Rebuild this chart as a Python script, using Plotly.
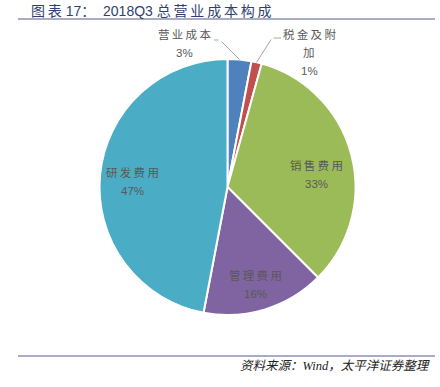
import math
import plotly.graph_objects as go

categories = ["营业成本", "税金及附加", "销售费用", "管理费用", "研发费用"]
values = [3.0, 1.3, 33.2, 15.5, 47.0]
colors = ["#4F81BD", "#C0504D", "#9BBB59", "#8064A2", "#4BACC6"]

W, H = 440, 387
cx, cy, R = 227.5, 187.0, 128.0
SP = "\u2009"
FONT = "Liberation Sans, Noto Sans CJK SC"

fig = go.Figure()
fig.add_trace(go.Pie(
    labels=categories, values=values, sort=False, direction="clockwise",
    rotation=0, marker=dict(colors=colors, line=dict(color="white", width=2)),
    textinfo="none", hoverinfo="label+percent", showlegend=False,
    domain=dict(x=[(cx - R) / W, (cx + R) / W], y=[1 - (cy + R) / H, 1 - (cy - R) / H]),
))

total = sum(values)
cum = 0
mids = []
for v in values:
    mids.append((cum + v / 2) / total * 2 * math.pi)
    cum += v

def px(xp, yp):
    return xp / W, 1 - yp / H

def spaced(s):
    return SP.join(list(s))

lab_font = dict(family=FONT, size=11.5, color="#595959")
LINE = 18.5
anns = []

def add_lines(lines, x, ymid):
    n = len(lines)
    for k, t in enumerate(lines):
        y = ymid + (k - (n - 1) / 2) * LINE
        xp, yp = px(x, y)
        anns.append(dict(x=xp, y=yp, xref="paper", yref="paper", showarrow=False,
                         text=t, font=lab_font, xanchor="center", yanchor="middle"))

# inside labels: (radius fraction, angle tweak in degrees)
inside = {2: (0.705, 7.0), 3: (0.79, 1.3), 4: (0.74, -2.0)}
for i, (rf, da) in inside.items():
    a = mids[i] + math.radians(da)
    r = rf * R
    x, y = cx + r * math.sin(a), cy - r * math.cos(a)
    pct = round(values[i] / total * 100)
    add_lines([spaced(categories[i]), f"{pct}%"], x, y)

# outside labels with leader lines
outside = {0: dict(tail=(220, 40), horiz=(214, 40), text_x=184, text_y=44,
                   lines=[spaced("营业成本")]),
           1: dict(tail=(272, 38), horiz=(281, 38), text_x=309, text_y=53,
                   lines=[spaced("税金及附"), "加"])}
for i, o in outside.items():
    a = mids[i]
    tx, ty = cx + R * math.sin(a), cy - R * math.cos(a)
    xp, yp = px(tx, ty)
    anns.append(dict(x=xp, y=yp, xref="paper", yref="paper", text="",
                     showarrow=True, arrowhead=0, arrowwidth=1, arrowcolor="#A6A6A6",
                     axref="pixel", ayref="pixel",
                     ax=o["tail"][0] - tx, ay=o["tail"][1] - ty, standoff=0, startstandoff=0))
    hx, hy = px(*o["horiz"])
    anns.append(dict(x=hx, y=hy, xref="paper", yref="paper", text="",
                     showarrow=True, arrowhead=0, arrowwidth=1, arrowcolor="#A6A6A6",
                     ax=o["tail"][0] - o["horiz"][0], ay=0, standoff=0, startstandoff=0))
    pct = round(values[i] / total * 100)
    add_lines(o["lines"] + [f"{pct}%"], o["text_x"], o["text_y"])

anns.append(dict(x=29 / W, y=1 - 10.5 / H, xref="paper", yref="paper", showarrow=False,
                 xanchor="left", yanchor="middle",
                 text=spaced("图表") + " 17：  2018Q3 " + spaced("总营业成本构成"),
                 font=dict(family=FONT, size=14, color="#2F3F6F")))
anns.append(dict(x=432 / W, y=1 - 366 / H, xref="paper", yref="paper", showarrow=False,
                 xanchor="right", yanchor="middle",
                 text="<i>资料来源：Wind，太平洋证券整理</i>",
                 font=dict(family="Liberation Serif, Noto Sans CJK SC", size=12.5, color="#222222")))

fig.update_layout(
    width=W, height=H, margin=dict(l=0, r=0, t=0, b=0),
    paper_bgcolor="white", plot_bgcolor="white", annotations=anns,
    shapes=[
        dict(type="line", xref="paper", yref="paper", x0=18 / W, x1=435 / W,
             y0=1 - 19 / H, y1=1 - 19 / H, line=dict(color="#8E8FB3", width=1.5)),
        dict(type="line", xref="paper", yref="paper", x0=18 / W, x1=435 / W,
             y0=1 - 356 / H, y1=1 - 356 / H, line=dict(color="#8E8FB3", width=1.5)),
    ],
)
fig.write_html("out.html", config={"displayModeBar": False},
               post_script="document.body.style.margin='0';")
